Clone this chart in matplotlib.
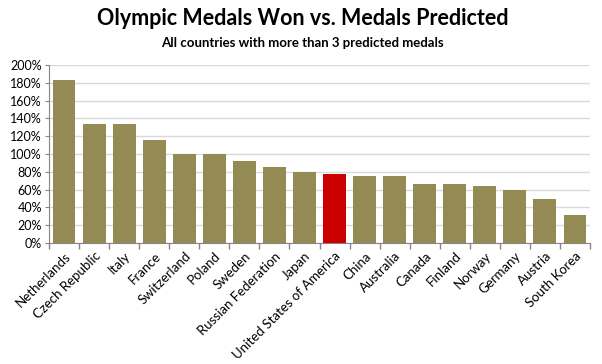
import matplotlib
matplotlib.use("Agg")
import matplotlib.pyplot as plt
from matplotlib.ticker import PercentFormatter, MultipleLocator, FixedLocator
import numpy as np

countries = ["Netherlands", "Czech Republic", "Italy", "France", "Switzerland",
             "Poland", "Sweden", "Russian Federation", "Japan",
             "United States of America", "China", "Australia", "Canada",
             "Finland", "Norway", "Germany", "Austria", "South Korea"]
ratio = [183.3, 133.3, 133.3, 115.4, 100, 100, 91.7, 85, 79.3, 78, 75, 75,
         66.7, 66.7, 63.6, 59, 50, 31]
highlight = "United States of America"

title = "Olympic Medals Won vs. Medals Predicted"
subtitle = "All countries with more than 3 predicted medals"

plt.rcParams['font.family'] = ['Lato', 'DejaVu Sans']

fig = plt.figure(figsize=(6.02, 3.64), dpi=100)
ax = fig.add_axes([49/602, 1-243/364, (590-49)/602, (243-65)/364])

x = np.arange(len(countries))
colors = ["#CC0000" if c == highlight else "#948A54" for c in countries]
ax.bar(x, ratio, width=0.76, color=colors, zorder=3)

ax.set_xlim(-0.5, len(countries)-0.5)
ax.set_ylim(0, 200)
ax.yaxis.set_major_locator(MultipleLocator(20))
ax.yaxis.set_major_formatter(PercentFormatter(decimals=0))
ax.grid(axis='y', color='#D9D9D9', linewidth=1, zorder=0)
ax.set_axisbelow(True)

ax.set_xticks(x)
ax.set_xticklabels(countries, rotation=45, ha='right', rotation_mode='anchor', fontsize=9.5)
ax.tick_params(axis='x', which='major', length=0, pad=5)
ax.xaxis.set_minor_locator(FixedLocator(np.arange(-0.5, len(countries), 1)))
ax.tick_params(axis='x', which='minor', length=4, color='#868686', width=1)
ax.tick_params(axis='y', length=3, color='#868686', labelsize=9, pad=2)

for s in ['top', 'right']:
    ax.spines[s].set_visible(False)
for s in ['left', 'bottom']:
    ax.spines[s].set_color('#868686')

fig.text(0.503, 0.950, title, ha='center', va='center', fontsize=15.5, fontweight='bold')
fig.text(0.503, 0.883, subtitle, ha='center', va='center', fontsize=9.5, fontweight='bold')

fig.savefig("out.png", dpi=100, facecolor='white')
